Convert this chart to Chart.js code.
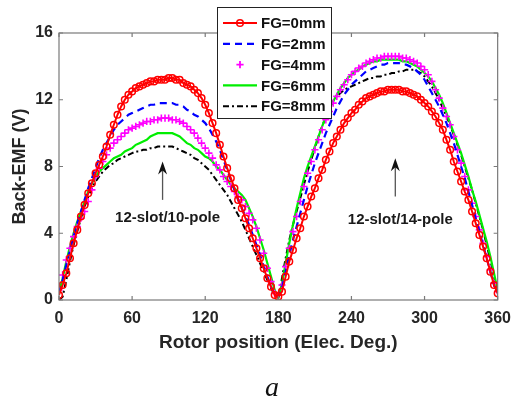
<!DOCTYPE html>
<html>
<head>
<meta charset="utf-8">
<script src="https://cdn.jsdelivr.net/npm/chart.js@4/dist/chart.umd.min.js"></script>
<style>
html,body{margin:0;padding:0;background:#fff;}
#wrap{width:520px;height:398px;position:relative;}
</style>
</head>
<body>
<div id="wrap"><canvas id="c" width="520" height="398"></canvas></div>
<script>
// Rotor position (electrical degrees), step 3
const angles = [];
for (let a = 0; a <= 360; a += 3) angles.push(a);

const seriesNames = ["FG=0mm", "FG=2mm", "FG=4mm", "FG=6mm", "FG=8mm"];
const xTicks = [0, 60, 120, 180, 240, 300, 360];
const yTicks = [0, 4, 8, 12, 16];
const annotations = ["12-slot/10-pole", "12-slot/14-pole"];
const annotationAngles = [85, 276];

const fg0 = [0.3,0.9,1.6,2.5,3.4,4.2,5.0,5.7,6.4,7.0,7.6,8.1,8.6,9.2,9.9,10.5,11.1,11.6,12.0,12.3,12.5,12.7,12.8,12.9,13.0,13.1,13.1,13.2,13.2,13.2,13.3,13.3,13.2,13.2,13.0,12.9,12.8,12.6,12.4,12.1,11.7,11.2,10.6,10.0,9.3,8.6,7.9,7.3,6.7,6.0,5.5,4.9,4.3,3.7,3.1,2.5,1.9,1.3,0.8,0.3,0.2,
 0.5,1.4,2.3,3.0,3.7,4.3,5.0,5.6,6.2,6.7,7.3,7.8,8.4,8.9,9.4,9.8,10.2,10.6,10.9,11.2,11.4,11.7,11.9,12.1,12.2,12.3,12.4,12.5,12.5,12.6,12.6,12.6,12.6,12.5,12.5,12.4,12.3,12.2,12.0,11.8,11.6,11.3,11.0,10.6,10.2,9.6,9.0,8.3,7.7,7.1,6.5,6.0,5.3,4.6,3.9,3.2,2.5,1.7,0.9,0.4];

const fg2 = [0.4,1.2,2.1,3.0,3.8,4.6,5.3,6.0,6.7,7.3,7.9,8.5,9.0,9.4,9.8,10.2,10.5,10.7,10.9,11.1,11.2,11.3,11.4,11.5,11.6,11.7,11.7,11.8,11.8,11.8,11.8,11.8,11.7,11.7,11.6,11.4,11.3,11.1,11.0,10.8,10.6,10.3,9.9,9.5,9.0,8.4,7.8,7.2,6.6,6.0,5.5,5.0,4.5,3.9,3.3,2.7,2.0,1.4,0.8,0.3,0.2,
 0.7,1.7,2.7,3.6,4.4,5.2,6.0,6.8,7.5,8.2,8.8,9.4,10.0,10.5,11.0,11.5,11.9,12.3,12.6,12.9,13.1,13.3,13.5,13.7,13.8,13.9,14.0,14.1,14.1,14.2,14.2,14.2,14.2,14.1,14.1,14.0,13.9,13.7,13.5,13.2,12.8,12.4,12.0,11.6,11.1,10.6,10.0,9.4,8.7,8.0,7.3,6.5,5.7,4.9,4.1,3.3,2.5,1.7,0.9,0.4];

const fg4 = [0.6,1.5,2.4,3.1,3.8,4.4,4.9,5.3,5.9,6.6,7.4,7.9,8.3,8.7,9.1,9.4,9.6,9.8,10.0,10.2,10.3,10.4,10.5,10.6,10.7,10.7,10.8,10.8,10.9,10.9,10.9,10.8,10.8,10.7,10.6,10.4,10.2,10.0,9.7,9.4,9.1,8.8,8.5,8.1,7.8,7.4,7.1,6.8,6.5,6.2,6.0,5.6,5.2,4.8,4.3,3.6,2.8,1.9,1.1,0.4,0.3,
 0.9,2.0,3.1,4.1,5.0,5.9,6.8,7.6,8.3,9.0,9.6,10.2,10.8,11.3,11.8,12.2,12.6,12.9,13.2,13.5,13.7,13.9,14.0,14.2,14.3,14.4,14.5,14.5,14.6,14.6,14.6,14.6,14.6,14.5,14.5,14.4,14.3,14.2,14.0,13.8,13.5,13.1,12.6,12.1,11.5,11.0,10.5,9.8,9.0,8.2,7.4,6.6,5.8,5.0,4.2,3.4,2.6,1.8,1.0,0.5];

const fg6 = [0.4,1.3,2.3,3.2,4.0,4.7,5.3,5.9,6.5,7.0,7.4,7.7,7.9,8.1,8.3,8.5,8.6,8.7,8.9,9.0,9.1,9.3,9.4,9.5,9.6,9.8,9.9,10.0,10.0,10.0,10.0,10.0,9.9,9.8,9.6,9.4,9.3,9.1,9.0,8.8,8.6,8.5,8.3,8.0,7.8,7.5,7.2,6.9,6.7,6.5,6.3,6.0,5.5,5.0,4.4,3.7,3.0,2.2,1.4,0.6,0.1,
 1.0,2.2,3.4,4.5,5.5,6.4,7.3,8.0,8.6,9.2,9.8,10.4,11.0,11.5,11.9,12.3,12.7,13.0,13.3,13.5,13.7,13.8,14.0,14.1,14.2,14.3,14.3,14.4,14.4,14.4,14.4,14.4,14.4,14.3,14.3,14.2,14.1,14.0,13.8,13.6,13.4,13.1,12.7,12.3,11.8,11.2,10.6,10.0,9.4,8.8,8.1,7.4,6.6,5.9,5.1,4.3,3.5,2.6,1.6,0.6];

const fg8 = [0.0,0.2,1.2,2.3,3.3,4.1,4.9,5.6,6.2,6.7,7.1,7.4,7.7,7.9,8.1,8.2,8.4,8.5,8.6,8.7,8.8,8.9,8.9,9.0,9.0,9.1,9.1,9.2,9.2,9.2,9.2,9.2,9.1,9.0,8.9,8.8,8.7,8.5,8.4,8.2,8.0,7.8,7.5,7.2,6.9,6.6,6.3,5.9,5.5,5.1,4.7,4.2,3.7,3.2,2.7,2.2,1.7,1.2,0.7,0.3,0.2,
 1.3,2.5,3.6,4.5,5.3,6.1,6.9,7.7,8.4,9.1,9.8,10.4,11.0,11.5,11.9,12.2,12.4,12.6,12.7,12.8,12.9,13.0,13.1,13.2,13.3,13.3,13.4,13.4,13.5,13.5,13.6,13.6,13.7,13.7,13.8,13.8,13.8,13.7,13.6,13.4,13.1,12.8,12.4,12.0,11.5,11.0,10.5,9.9,9.3,8.7,8.0,7.3,6.6,5.8,5.0,4.2,3.3,2.4,1.4,0.5];

const toXY = arr => arr.map((v, i) => ({x: angles[i], y: v}));

const datasets = [
  {label: seriesNames[0], data: toXY(fg0), borderColor: '#ff0000', backgroundColor: 'rgba(0,0,0,0)',
   borderWidth: 2, pointStyle: 'circle', pointRadius: 3.3, pointBorderWidth: 1.5, pointBorderColor: '#ff0000', pointBackgroundColor: 'rgba(0,0,0,0)', showLine: true},
  {label: seriesNames[1], data: toXY(fg2), borderColor: '#0000ff', borderWidth: 2.2, borderDash: [7, 5], pointRadius: 0, showLine: true},
  {label: seriesNames[2], data: toXY(fg4), borderColor: '#ff00ff', pointStyle: 'cross', pointRadius: 3.6, pointBorderWidth: 1.6, pointBorderColor: '#ff00ff', showLine: false},
  {label: seriesNames[3], data: toXY(fg6), borderColor: '#00ee00', borderWidth: 2.2, pointRadius: 0, showLine: true},
  {label: seriesNames[4], data: toXY(fg8), borderColor: '#000000', borderWidth: 2, borderDash: [6, 3, 2, 3], pointRadius: 0, showLine: true}
];

const decor = {
  id: 'decor',
  afterDraw(chart) {
    const ctx = chart.ctx;
    const xs = chart.scales.x, ys = chart.scales.y;
    const a = chart.chartArea;
    ctx.save();
    // axes box
    ctx.strokeStyle = '#7a7a7a';
    ctx.lineWidth = 1.2;
    ctx.strokeRect(a.left, a.top, a.right - a.left, a.bottom - a.top);
    // inward ticks
    ctx.beginPath();
    xTicks.forEach(t => {
      const px = xs.getPixelForValue(t);
      ctx.moveTo(px, a.bottom); ctx.lineTo(px, a.bottom - 4);
      ctx.moveTo(px, a.top); ctx.lineTo(px, a.top + 4);
    });
    yTicks.forEach(t => {
      const py = ys.getPixelForValue(t);
      ctx.moveTo(a.left, py); ctx.lineTo(a.left + 4, py);
      ctx.moveTo(a.right, py); ctx.lineTo(a.right - 4, py);
    });
    ctx.stroke();

    // annotations: arrows + text
    ctx.font = 'bold 15px "Liberation Sans", Arial, sans-serif';
    ctx.textAlign = 'center';
    ctx.textBaseline = 'middle';
    const arrowTop = [8.3, 8.5], arrowBot = [6.0, 6.2], textY = [4.9, 4.8];
    annotationAngles.forEach((ang, i) => {
      const px = xs.getPixelForValue(ang);
      const yTop = ys.getPixelForValue(arrowTop[i]);
      const yBot = ys.getPixelForValue(arrowBot[i]);
      ctx.strokeStyle = '#555';
      ctx.lineWidth = 1.3;
      ctx.beginPath(); ctx.moveTo(px, yBot); ctx.lineTo(px, yTop + 6); ctx.stroke();
      ctx.fillStyle = '#111';
      ctx.beginPath();
      ctx.moveTo(px, yTop); ctx.lineTo(px - 4.5, yTop + 13); ctx.lineTo(px, yTop + 9); ctx.lineTo(px + 4.5, yTop + 13);
      ctx.closePath(); ctx.fill();
      ctx.fillStyle = '#1a1a1a';
      ctx.fillText(annotations[i], px + 5, ys.getPixelForValue(textY[i]));
    });

    // legend box
    const lx = 217, ly = 7, lw = 114, lh = 111;
    ctx.fillStyle = '#fff';
    ctx.fillRect(lx, ly, lw, lh);
    ctx.strokeStyle = '#222';
    ctx.lineWidth = 1;
    ctx.strokeRect(lx + 0.5, ly + 0.5, lw, lh);
    ctx.font = 'bold 15px "Liberation Sans", Arial, sans-serif';
    ctx.textAlign = 'left';
    chart.data.datasets.forEach((ds, i) => {
      const cy = ly + 16 + i * 20.8;
      const x0 = lx + 6, x1 = lx + 40;
      ctx.save();
      if (ds.showLine !== false) {
        ctx.strokeStyle = ds.borderColor;
        ctx.lineWidth = ds.borderWidth;
        ctx.setLineDash(ds.borderDash || []);
        ctx.beginPath(); ctx.moveTo(x0, cy); ctx.lineTo(x1, cy); ctx.stroke();
        ctx.setLineDash([]);
      }
      const mx = (x0 + x1) / 2;
      if (ds.pointStyle === 'circle' && ds.pointRadius > 0) {
        ctx.strokeStyle = ds.pointBorderColor; ctx.lineWidth = 1.5;
        ctx.beginPath(); ctx.arc(mx, cy, 3.3, 0, Math.PI * 2); ctx.stroke();
      } else if (ds.pointStyle === 'cross') {
        ctx.strokeStyle = ds.pointBorderColor; ctx.lineWidth = 1.8;
        ctx.beginPath(); ctx.moveTo(mx - 3.6, cy); ctx.lineTo(mx + 3.6, cy);
        ctx.moveTo(mx, cy - 3.6); ctx.lineTo(mx, cy + 3.6); ctx.stroke();
      }
      ctx.restore();
      ctx.fillStyle = '#111';
      ctx.fillText(ds.label, lx + 44, cy + 1);
    });

    // subfigure label
    ctx.fillStyle = '#111';
    ctx.font = 'italic 28px "Liberation Serif", "Times New Roman", serif';
    ctx.textAlign = 'center';
    ctx.textBaseline = 'alphabetic';
    ctx.fillText('a', 272, 396);
    ctx.restore();
  }
};

new Chart(document.getElementById('c'), {
  type: 'scatter',
  data: {datasets},
  options: {
    responsive: false,
    animation: false,
    devicePixelRatio: 1,
    layout: {padding: {top: 33, right: 13, left: 0, bottom: 44}},
    plugins: {legend: {display: false}, tooltip: {enabled: false}},
    scales: {
      x: {
        type: 'linear', min: 0, max: 360,
        afterBuildTicks: s => { s.ticks = xTicks.map(v => ({value: v})); },
        afterFit: s => { s.height = 54; },
        grid: {display: false, drawTicks: false},
        border: {display: false},
        ticks: {color: '#262626', padding: 9, font: {family: '"Liberation Sans", Arial, sans-serif', size: 16, weight: 'bold'}},
        title: {display: true, text: 'Rotor position (Elec. Deg.)', color: '#262626', padding: {top: 2, bottom: 0}, font: {family: '"Liberation Sans", Arial, sans-serif', size: 19, weight: 'bold'}}
      },
      y: {
        type: 'linear', min: 0, max: 16,
        afterBuildTicks: s => { s.ticks = yTicks.map(v => ({value: v})); },
        afterFit: s => { s.width = 59; },
        grid: {display: false, drawTicks: false},
        border: {display: false},
        ticks: {color: '#262626', padding: 6, font: {family: '"Liberation Sans", Arial, sans-serif', size: 16, weight: 'bold'}},
        title: {display: true, text: 'Back-EMF (V)', color: '#262626', padding: {top: 9, bottom: 0}, font: {family: '"Liberation Sans", Arial, sans-serif', size: 18, weight: 'bold'}}
      }
    }
  },
  plugins: [decor]
});
</script>
</body>
</html>
